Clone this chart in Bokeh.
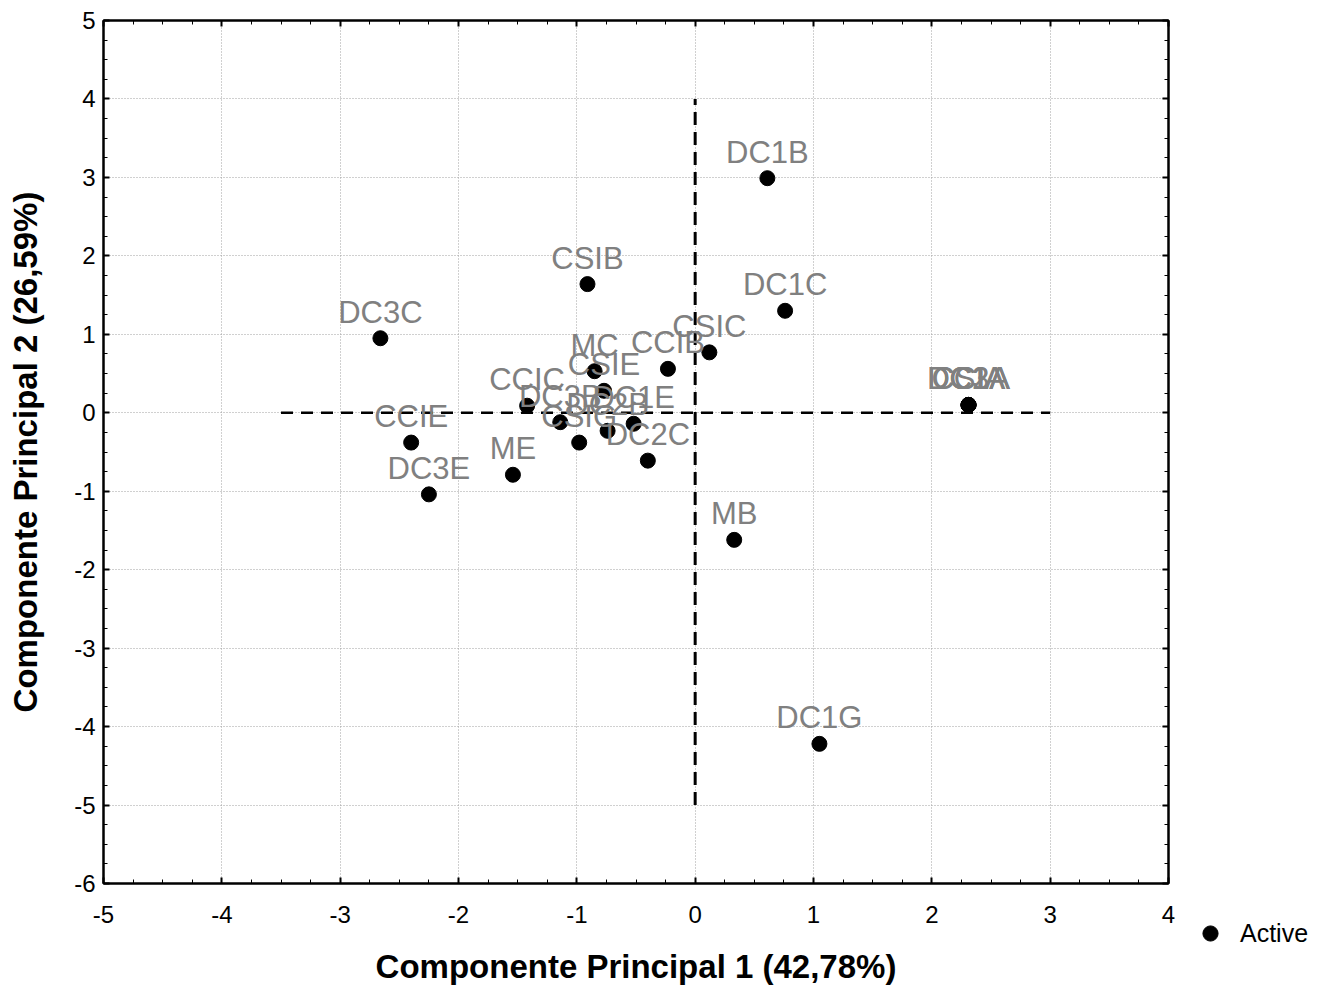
from bokeh.plotting import figure
from bokeh.layouts import row, column
from bokeh.models import (Range1d, LinearAxis, SingleIntervalTicker, ColumnDataSource,
                          LabelSet, Legend, LegendItem, CustomJSTickFormatter, Spacer)
from bokeh.core.properties import value
from bokeh.embed import file_html
from bokeh.resources import INLINE

# ---- data ----
labels = ["DC1B", "DC1C", "CSIB", "DC3C", "CSIC", "CCIB", "MC", "CSIE", "CCIC",
          "DC3B", "DC2B", "DC1E", "CSIG", "DC2C", "CCIE", "DC3E", "ME", "MB", "DC1G",
          "DC1A", "DC2A", "DC3A", "CCIA", "CSIA"]
pc1 = [0.61, 0.76, -0.91, -2.66, 0.12, -0.23, -0.85, -0.77, -1.42,
       -1.14, -0.74, -0.52, -0.98, -0.40, -2.40, -2.25, -1.54, 0.33, 1.05,
       2.31, 2.31, 2.31, 2.31, 2.31]
pc2 = [2.99, 1.30, 1.64, 0.95, 0.77, 0.56, 0.53, 0.28, 0.09,
       -0.12, -0.23, -0.14, -0.38, -0.61, -0.38, -1.04, -0.79, -1.62, -4.22,
       0.10, 0.10, 0.10, 0.10, 0.10]

x_title = "Componente Principal 1 (42,78%)"
y_title = "Componente Principal 2 (26,59%)"
legend_label = "Active"

# reference (dashed) axes through origin
hline_x = [-3.5, 3.0]
hline_y = [0.0, 0.0]
vline_x = [0.0, 0.0]
vline_y = [-5.0, 4.0]

FONT = "Liberation Sans"
tick_fmt = "return tick.toFixed(0)"

p = figure(frame_width=1065, frame_height=863,
           x_range=Range1d(-5, 4), y_range=Range1d(-6, 5),
           output_backend="svg", toolbar_location=None,
           min_border_left=103, min_border_right=10,
           min_border_top=20, min_border_bottom=100)

p.background_fill_color = "white"
p.border_fill_color = "white"
p.outline_line_color = "black"
p.outline_line_width = 2

for ax in (p.xaxis[0], p.yaxis[0]):
    ax.ticker = SingleIntervalTicker(interval=1, num_minor_ticks=4)
    ax.formatter = CustomJSTickFormatter(code=tick_fmt)
    ax.axis_line_color = "black"
    ax.axis_line_width = 2
    ax.major_tick_in = 6
    ax.major_tick_out = 0
    ax.minor_tick_in = 4
    ax.minor_tick_out = 0
    ax.major_tick_line_color = "black"
    ax.major_tick_line_width = 2
    ax.minor_tick_line_color = "black"
    ax.minor_tick_line_width = 1
    ax.major_label_text_font = FONT
    ax.major_label_text_font_size = "24px"
    ax.major_label_text_color = "black"
    ax.axis_label_text_font = FONT
    ax.axis_label_text_font_style = "bold"
    ax.axis_label_text_font_size = "33px"
    ax.axis_label_text_color = "black"

p.xaxis[0].axis_label = x_title
p.yaxis[0].axis_label = y_title
p.xaxis[0].major_label_standoff = 22
p.yaxis[0].major_label_standoff = 8
p.xaxis[0].axis_label_standoff = 22
p.yaxis[0].axis_label_standoff = 27

for loc in ("above", "right"):
    ax = LinearAxis(ticker=SingleIntervalTicker(interval=1, num_minor_ticks=4),
                    formatter=CustomJSTickFormatter(code="return ''"))
    ax.axis_line_color = "black"
    ax.axis_line_width = 2
    ax.major_tick_in = 6
    ax.major_tick_out = 0
    ax.minor_tick_in = 4
    ax.minor_tick_out = 0
    ax.major_tick_line_color = "black"
    ax.major_tick_line_width = 2
    ax.minor_tick_line_color = "black"
    ax.major_label_standoff = 0
    ax.major_label_text_font_size = "1px"
    p.add_layout(ax, loc)

p.xgrid.ticker = SingleIntervalTicker(interval=1)
p.ygrid.ticker = SingleIntervalTicker(interval=1)
for g in (p.xgrid[0], p.ygrid[0]):
    g.grid_line_color = "#a0a0a0"
    g.grid_line_dash = "1 2"
    g.grid_line_width = 1

p.line(hline_x, hline_y, line_color="black", line_width=2.5, line_dash="12 8")
p.line(vline_x, vline_y, line_color="black", line_width=3, line_dash="13 7")

src = ColumnDataSource(dict(x=pc1, y=pc2, label=labels))
r = p.scatter("x", "y", source=src, size=15, fill_color="black", line_color="black")

lbl = LabelSet(x="x", y="y", text="label", source=src, y_offset=26,
               text_align="center", text_baseline="middle",
               text_font=value(FONT), text_font_size="31px", text_color="#808080")
p.add_layout(lbl)

# ---- legend panel (bottom-right, outside the main frame) ----
# The legend's renderer reuses the same data; its ranges keep those points out of view,
# so only the legend entry itself is visible here.
leg = figure(width=145, height=50, output_backend="svg", toolbar_location=None,
             x_axis_type=None, y_axis_type=None,
             x_range=Range1d(100, 101), y_range=Range1d(100, 101),
             min_border=0, min_border_left=0, min_border_right=0,
             min_border_top=0, min_border_bottom=0)
leg.outline_line_color = None
leg.background_fill_color = "white"
leg.border_fill_color = "white"
leg.xgrid.visible = False
leg.ygrid.visible = False
r_leg = leg.scatter("x", "y", source=src, size=15, fill_color="black", line_color="black")
legend = Legend(items=[LegendItem(label=value(legend_label), renderers=[r_leg])],
                location=(13, 6), border_line_color=None,
                background_fill_alpha=0, padding=0, margin=0,
                glyph_width=38, glyph_height=38, label_standoff=11,
                label_height=38,
                label_text_font=FONT, label_text_font_size="25px",
                label_text_color="black", label_text_baseline="middle")
leg.add_layout(legend)

layout = row(p, column(Spacer(width=145, height=908), leg))

open("out.html", "w").write(file_html(layout, INLINE))
